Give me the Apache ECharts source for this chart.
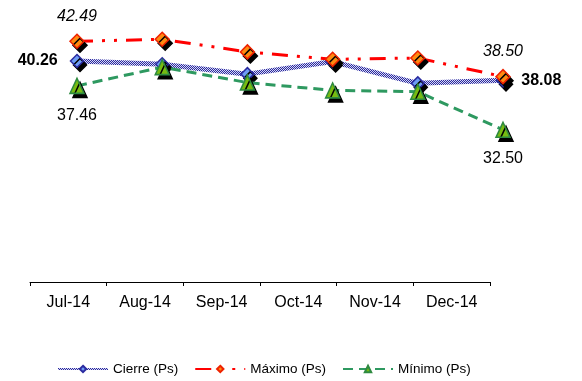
<!DOCTYPE html>
<html>
<head>
<meta charset="utf-8">
<script src="https://cdn.jsdelivr.net/npm/echarts@6/dist/echarts.min.js"></script>
<style>
  html, body { margin: 0; padding: 0; background: #ffffff; }
  #chart { width: 582px; height: 381px; }
</style>
</head>
<body>
<div id="chart"></div>
<script>
// Monthly price range (Ps)
const months = ['Jul-14', 'Aug-14', 'Sep-14', 'Oct-14', 'Nov-14', 'Dec-14'];
const cierre = [40.26, 39.90, 38.78, 40.20, 37.74, 38.08];
const maximo = [42.49, 42.71, 41.29, 40.45, 40.60, 38.50];
const minimo = [37.46, 39.57, 37.83, 36.95, 36.80, 32.50];

const FONT = '"Liberation Sans", Arial, sans-serif';

// small checkered tile for the closing-price line
function checkerTile() {
  const c = document.createElement('canvas');
  c.width = 2; c.height = 2;
  const g = c.getContext('2d');
  g.fillStyle = '#2a2a9e';
  g.fillRect(0, 0, 2, 2);
  g.fillStyle = '#d8d8f4';
  g.fillRect(0, 0, 1, 1);
  g.fillRect(1, 1, 1, 1);
  return c;
}
const checker = { image: checkerTile(), repeat: 'repeat' };

const shadow = { shadowColor: '#000000', shadowBlur: 0, shadowOffsetX: 3, shadowOffsetY: 4 };
const twoDec = p => Number(p.value).toFixed(2);

function endLabels(values, first, last) {
  return values.map((v, i) => {
    if (i === 0 && first) return { value: v, label: Object.assign({ show: true, formatter: twoDec }, first) };
    if (i === values.length - 1 && last) return { value: v, label: Object.assign({ show: true, formatter: twoDec }, last) };
    return v;
  });
}

const chart = echarts.init(document.getElementById('chart'), null, { renderer: 'canvas' });

chart.setOption({
  animation: false,
  backgroundColor: '#ffffff',
  textStyle: { fontFamily: FONT },
  grid: [
    { left: 30, right: 92, top: 20, bottom: 99 },
    { left: 77, right: 79, top: 19, bottom: 229 }
  ],
  xAxis: [
    {
      type: 'category', gridIndex: 0, data: months,
      axisLine: { lineStyle: { color: '#000000', width: 1 } },
      axisTick: { show: true, length: 4, lineStyle: { color: '#000000' } },
      axisLabel: { color: '#000000', fontSize: 16, fontFamily: FONT, margin: 13 },
      splitLine: { show: false }
    },
    {
      type: 'category', gridIndex: 1, data: months, boundaryGap: false, show: false
    }
  ],
  yAxis: [
    { type: 'value', gridIndex: 0, min: 0, max: 1, show: false },
    { type: 'value', gridIndex: 1, min: 30, max: 45, show: false }
  ],
  legend: {
    left: 52, top: 357,
    itemWidth: 50, itemHeight: 8, itemGap: 16,
    textStyle: { fontSize: 13.5, color: '#000000', fontFamily: FONT },
    itemStyle: { shadowColor: 'rgba(0,0,0,0)', shadowOffsetX: 0, shadowOffsetY: 0 },
    data: ['Cierre (Ps)', 'Máximo (Ps)', 'Mínimo (Ps)']
  },
  series: [
    {
      name: 'Cierre (Ps)', type: 'line', xAxisIndex: 1, yAxisIndex: 1,
      symbol: 'diamond', symbolSize: 13, z: 3,
      lineStyle: { color: checker, width: 5 },
      itemStyle: Object.assign({ color: '#6e9cf5', borderColor: '#2b2ba0', borderWidth: 1.5 }, shadow),
      data: endLabels(cierre,
        { position: 'left', distance: 12, fontSize: 16, fontWeight: 'bold', color: '#000000', fontFamily: FONT },
        { position: 'right', distance: 11, fontSize: 16, fontWeight: 'bold', color: '#000000', fontFamily: FONT })
    },
    {
      name: 'Máximo (Ps)', type: 'line', xAxisIndex: 1, yAxisIndex: 1,
      symbol: 'diamond', symbolSize: 14, z: 4,
      lineStyle: { color: '#ff0000', width: 3, type: [16, 9, 3, 9, 3, 9] },
      itemStyle: Object.assign({ color: '#ff8a10', borderColor: '#ee2200', borderWidth: 1.5 }, shadow),
      data: endLabels(maximo,
        { position: 'top', distance: 9, fontSize: 16, fontStyle: 'italic', color: '#000000', fontFamily: FONT },
        { position: 'top', distance: 9, fontSize: 16, fontStyle: 'italic', color: '#000000', fontFamily: FONT })
    },
    {
      name: 'Mínimo (Ps)', type: 'line', xAxisIndex: 1, yAxisIndex: 1,
      symbol: 'triangle', symbolSize: [14, 15], z: 5,
      lineStyle: { color: '#2e9960', width: 3, type: [10, 6] },
      itemStyle: Object.assign({ color: '#77bb11', borderColor: '#2e8a40', borderWidth: 1.5 }, shadow),
      data: endLabels(minimo,
        { position: 'bottom', distance: 13, fontSize: 16, color: '#000000', fontFamily: FONT },
        { position: 'bottom', distance: 12, fontSize: 16, color: '#000000', fontFamily: FONT })
    }
  ]
});
</script>
</body>
</html>
